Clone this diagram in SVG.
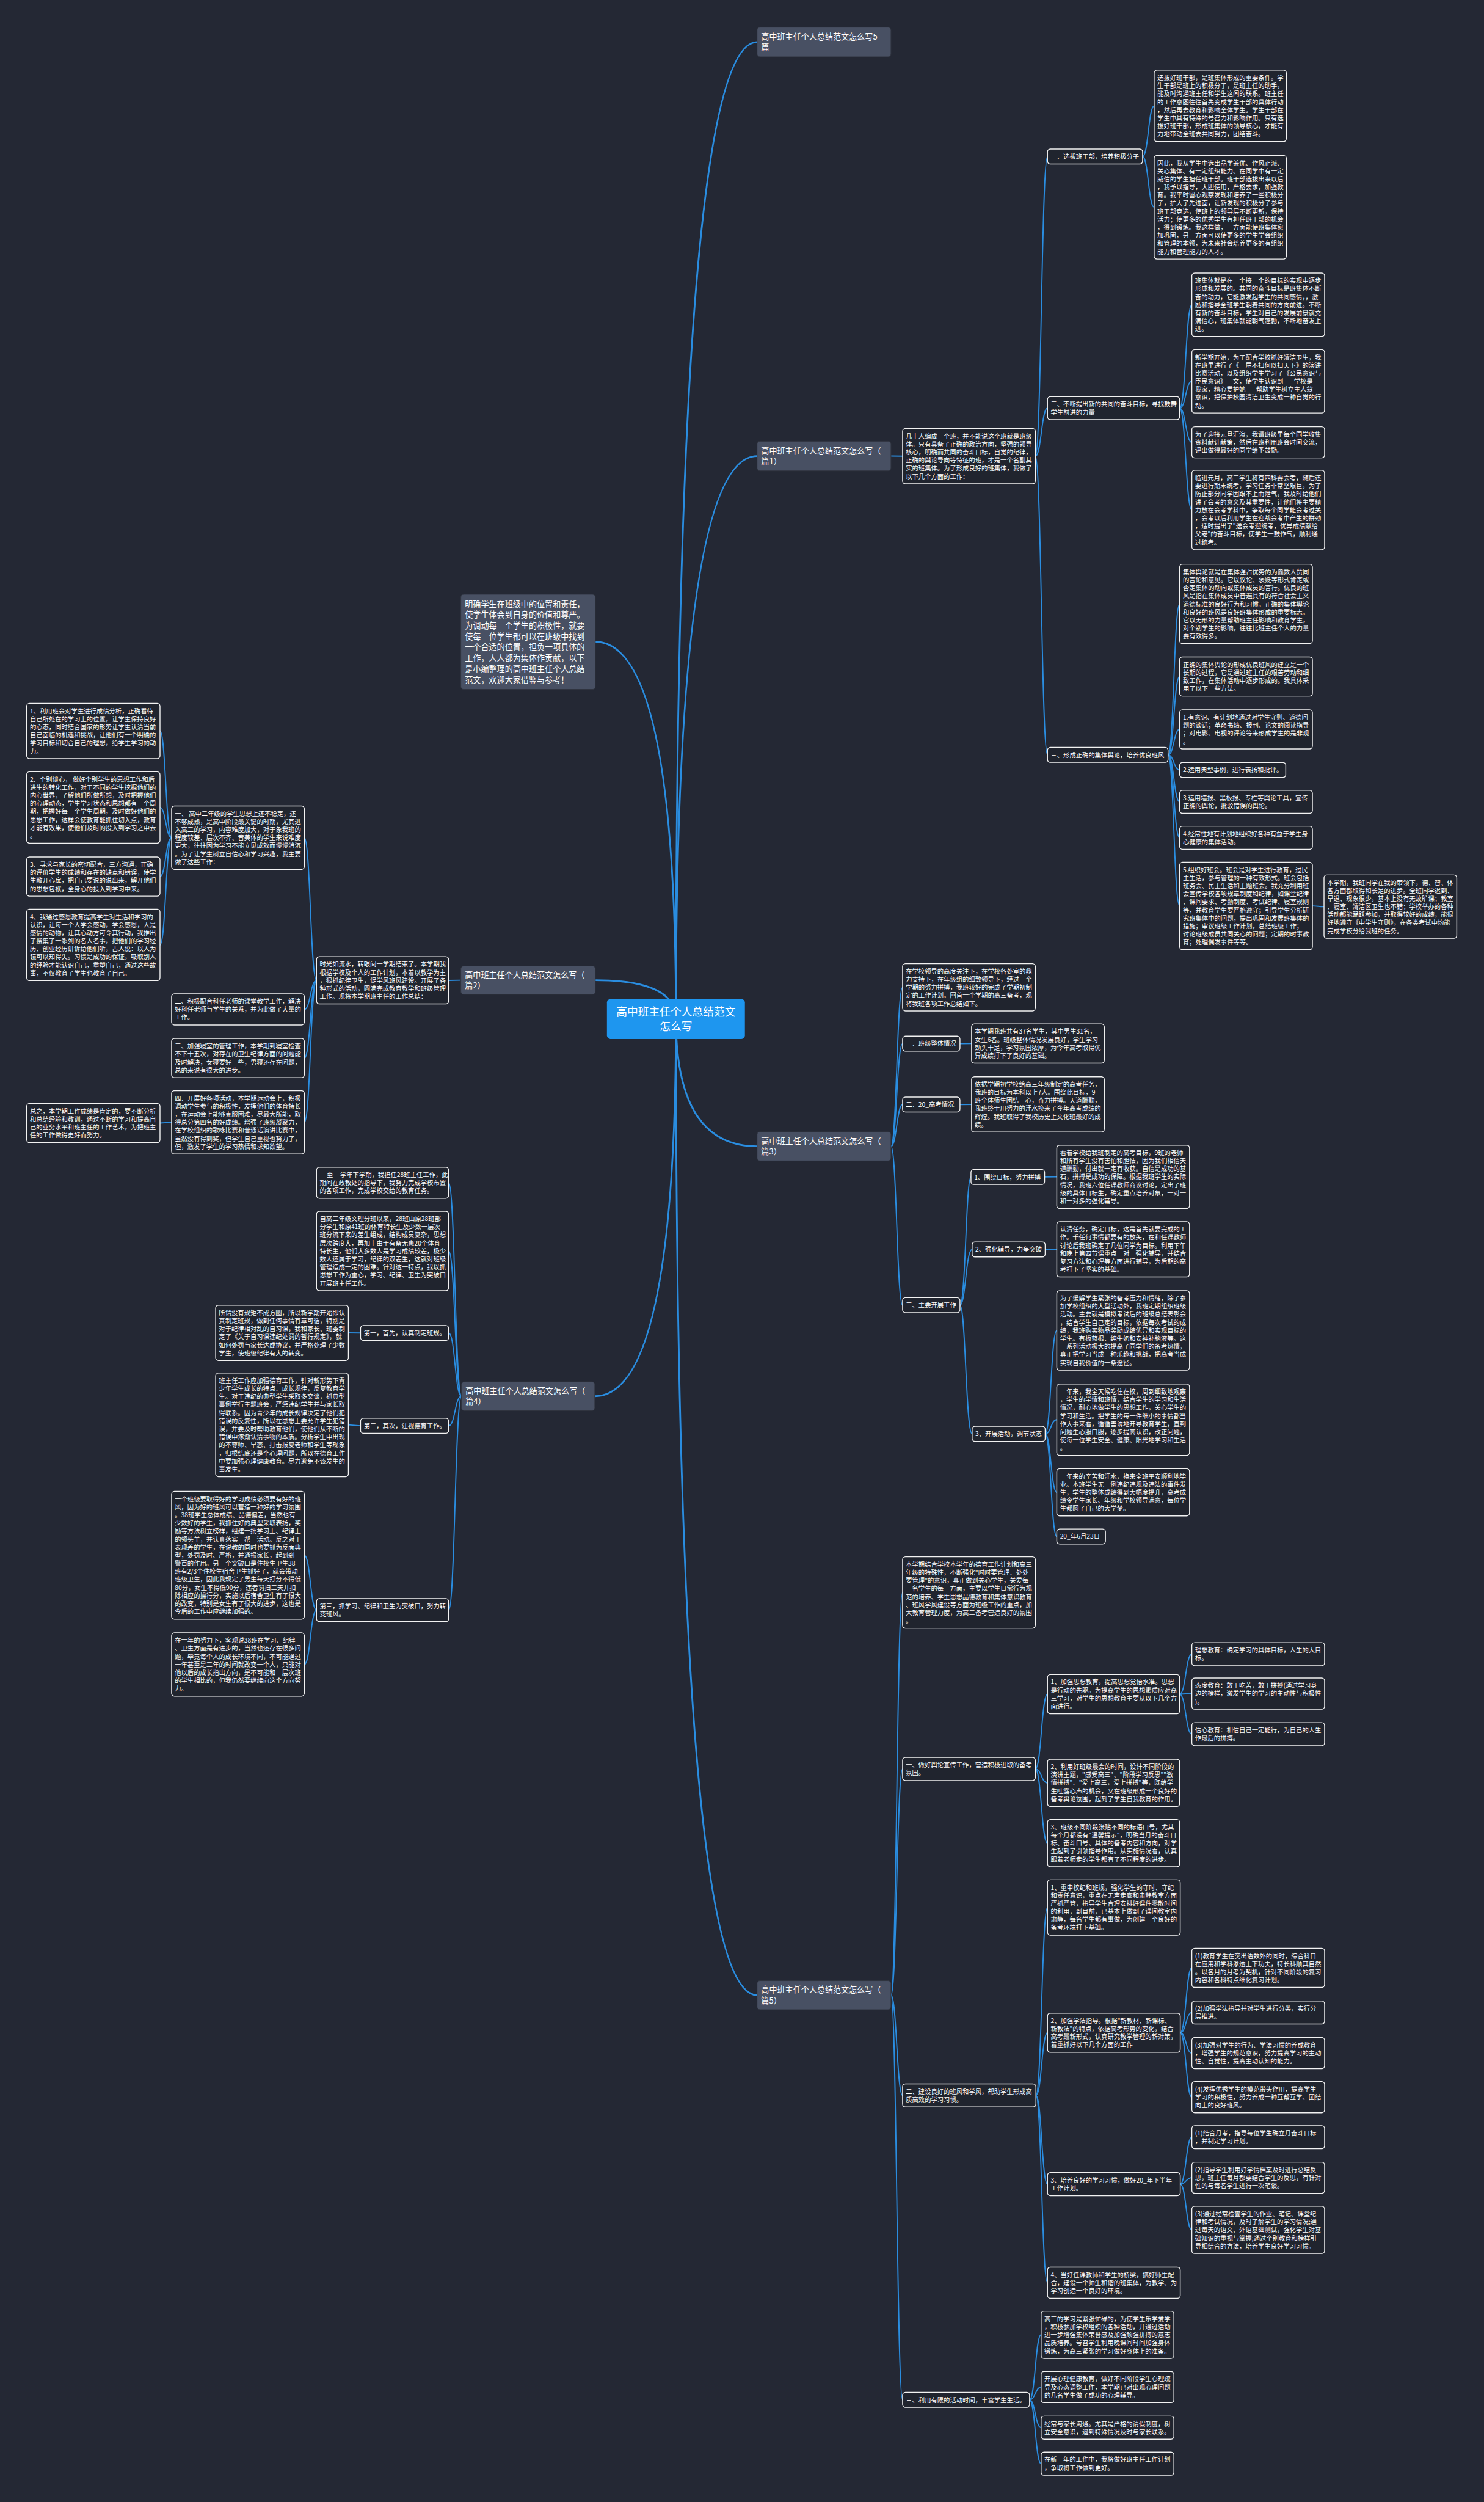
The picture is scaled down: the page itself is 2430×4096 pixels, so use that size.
<svg xmlns="http://www.w3.org/2000/svg" width="2430" height="4096" viewBox="0 0 2430 4096">
<style>
.lf{fill:#20242e;stroke:#f2f2f2;stroke-width:1.5}
.br{fill:#485063;stroke:#2f343e;stroke-width:1}
.ct{fill:#1e96ef}
text{fill:#ffffff;font-family:"Noto Sans CJK SC","Noto Sans",sans-serif}
.t{font-size:10.9px}
.tb{font-size:13.8px}
.tc{font-size:18.7px}
.cm{fill:none;stroke:#2a8de0;stroke-width:3}
.cs{fill:none;stroke:#2a8de0;stroke-width:2}
</style>
<rect x="0" y="0" width="2430" height="4096" fill="#242834"/>
<g transform="scale(0.94922)">
<g id="connectors">
<path class="cm" d="M1166 1757 Q1166 72.5 1306 72.5"/>
<path class="cm" d="M1166 1757 Q1166 786.5 1306 786.5"/>
<path class="cm" d="M1166 1757 Q1166 1977 1306 1977"/>
<path class="cm" d="M1166 1757 Q1166 3441 1306 3441"/>
<path class="cm" d="M1166 1757 Q1166 1107 1027 1107"/>
<path class="cm" d="M1166 1757 Q1166 1690.5 1027 1690.5"/>
<path class="cm" d="M1166 1757 Q1166 2408 1026 2408"/>
<path class="cs" d="M1537 786.5 L1557 786.7"/>
<path class="cs" d="M1786 786.7 C1796.5 786.7 1796.5 270 1807 270"/>
<path class="cs" d="M1786 786.7 C1796.5 786.7 1796.5 703.9 1807 703.9"/>
<path class="cs" d="M1786 786.7 C1796.5 786.7 1796.5 1302 1807 1302"/>
<path class="cs" d="M1971 270 C1981 270 1981 182.6 1991 182.6"/>
<path class="cs" d="M1971 270 C1981 270 1981 357.4 1991 357.4"/>
<path class="cs" d="M2035 703.9 C2045.5 703.9 2045.5 525.7 2056 525.7"/>
<path class="cs" d="M2035 703.9 C2045.5 703.9 2045.5 657.7 2056 657.7"/>
<path class="cs" d="M2035 703.9 C2045.5 703.9 2045.5 762.9 2056 762.9"/>
<path class="cs" d="M2035 703.9 C2045.5 703.9 2045.5 879.6 2056 879.6"/>
<path class="cs" d="M2015 1302 C2025 1302 2025 1041.6 2035 1041.6"/>
<path class="cs" d="M2015 1302 C2025 1302 2025 1166.8 2035 1166.8"/>
<path class="cs" d="M2015 1302 C2025 1302 2025 1257.8 2035 1257.8"/>
<path class="cs" d="M2015 1302 C2025 1302 2025 1328 2035 1328"/>
<path class="cs" d="M2015 1302 C2025 1302 2025 1382.9 2035 1382.9"/>
<path class="cs" d="M2015 1302 C2025 1302 2025 1444.9 2035 1444.9"/>
<path class="cs" d="M2015 1302 C2025 1302 2025 1562.5 2035 1562.5"/>
<path class="cs" d="M2264 1562.5 C2274 1562.5 2274 1563.7 2284 1563.7"/>
<path class="cs" d="M795 1690.5 L774 1690.8"/>
<path class="cs" d="M546 1690.8 C535.5 1690.8 535.5 1444.7 525 1444.7"/>
<path class="cs" d="M546 1690.8 C535.5 1690.8 535.5 1740.9 525 1740.9"/>
<path class="cs" d="M546 1690.8 C535.5 1690.8 535.5 1824.8 525 1824.8"/>
<path class="cs" d="M546 1690.8 C535.5 1690.8 535.5 1935.7 525 1935.7"/>
<path class="cs" d="M296 1444.7 C286 1444.7 286 1260.7 276 1260.7"/>
<path class="cs" d="M296 1444.7 C286 1444.7 286 1392.6 276 1392.6"/>
<path class="cs" d="M296 1444.7 C286 1444.7 286 1511.8 276 1511.8"/>
<path class="cs" d="M296 1444.7 C286 1444.7 286 1629.6 276 1629.6"/>
<path class="cs" d="M296 1935.7 L276 1936.8"/>
<path class="cs" d="M1537 1977 C1547 1977 1547 1702.8 1557 1702.8"/>
<path class="cs" d="M1537 1977 C1547 1977 1547 1800 1557 1800"/>
<path class="cs" d="M1537 1977 C1547 1977 1547 1905 1557 1905"/>
<path class="cs" d="M1537 1977 C1547 1977 1547 2251 1557 2251"/>
<path class="cs" d="M1656 1800 L1676 1799.8"/>
<path class="cs" d="M1656 1905 L1676 1904.7"/>
<path class="cs" d="M1656 2251 C1666 2251 1666 2030 1675 2030"/>
<path class="cs" d="M1656 2251 C1666 2251 1666 2155 1677 2155"/>
<path class="cs" d="M1656 2251 C1666 2251 1666 2473 1677 2473"/>
<path class="cs" d="M1802 2030 L1823 2029.7"/>
<path class="cs" d="M1803 2155 L1823 2154.7"/>
<path class="cs" d="M1803 2473 C1813 2473 1813 2294.6 1823 2294.6"/>
<path class="cs" d="M1803 2473 C1813 2473 1813 2448.6 1823 2448.6"/>
<path class="cs" d="M1803 2473 C1813 2473 1813 2573.8 1823 2573.8"/>
<path class="cs" d="M1803 2473 C1813 2473 1813 2650 1823 2650"/>
<path class="cs" d="M796 2408 C785 2408 785 2039.9 774 2039.9"/>
<path class="cs" d="M796 2408 C785 2408 785 2157.6 774 2157.6"/>
<path class="cs" d="M796 2408 C785 2408 785 2299 774 2299"/>
<path class="cs" d="M796 2408 C785 2408 785 2459 774 2459"/>
<path class="cs" d="M796 2408 C785 2408 785 2776.9 774 2776.9"/>
<path class="cs" d="M622 2299 L601 2298.7"/>
<path class="cs" d="M622 2459 L601 2457.4"/>
<path class="cs" d="M546 2776.9 C535.5 2776.9 535.5 2682.3 525 2682.3"/>
<path class="cs" d="M546 2776.9 C535.5 2776.9 535.5 2870.7 525 2870.7"/>
<path class="cs" d="M1537 3441 C1547 3441 1547 2746.6 1557 2746.6"/>
<path class="cs" d="M1537 3441 C1547 3441 1547 3050.9 1557 3050.9"/>
<path class="cs" d="M1537 3441 C1547 3441 1547 3613.9 1557 3613.9"/>
<path class="cs" d="M1537 3441 C1547 3441 1547 4139 1557 4139"/>
<path class="cs" d="M1786 3050.9 C1796.5 3050.9 1796.5 2921.8 1807 2921.8"/>
<path class="cs" d="M1786 3050.9 C1796.5 3050.9 1796.5 3074.8 1807 3074.8"/>
<path class="cs" d="M1786 3050.9 C1796.5 3050.9 1796.5 3178.8 1807 3178.8"/>
<path class="cs" d="M2035 2921.8 C2045.5 2921.8 2045.5 2852.9 2056 2852.9"/>
<path class="cs" d="M2035 2921.8 C2045.5 2921.8 2045.5 2920.9 2056 2920.9"/>
<path class="cs" d="M2035 2921.8 C2045.5 2921.8 2045.5 2990.9 2056 2990.9"/>
<path class="cs" d="M1787 3613.9 C1797 3613.9 1797 3289.7 1807 3289.7"/>
<path class="cs" d="M1787 3613.9 C1797 3613.9 1797 3505.8 1807 3505.8"/>
<path class="cs" d="M1787 3613.9 C1797 3613.9 1797 3766.9 1807 3766.9"/>
<path class="cs" d="M1787 3613.9 C1797 3613.9 1797 3936.9 1807 3936.9"/>
<path class="cs" d="M2036 3505.8 C2046 3505.8 2046 3393.8 2056 3393.8"/>
<path class="cs" d="M2036 3505.8 C2046 3505.8 2046 3470.9 2056 3470.9"/>
<path class="cs" d="M2036 3505.8 C2046 3505.8 2046 3540.9 2056 3540.9"/>
<path class="cs" d="M2036 3505.8 C2046 3505.8 2046 3616.9 2056 3616.9"/>
<path class="cs" d="M2036 3766.9 C2046 3766.9 2046 3685.9 2056 3685.9"/>
<path class="cs" d="M2036 3766.9 C2046 3766.9 2046 3755.9 2056 3755.9"/>
<path class="cs" d="M2036 3766.9 C2046 3766.9 2046 3845.8 2056 3845.8"/>
<path class="cs" d="M1776 4139 C1786 4139 1786 4026.8 1796 4026.8"/>
<path class="cs" d="M1776 4139 C1786 4139 1786 4116.9 1796 4116.9"/>
<path class="cs" d="M1776 4139 C1786 4139 1786 4186.9 1796 4186.9"/>
<path class="cs" d="M1776 4139 C1786 4139 1786 4248.9 1796 4248.9"/>
</g>

<g id="center"><rect class="ct" x="1047" y="1723" width="238" height="69" rx="6"/><text class="tc" x="1166" y="1751.6" text-anchor="middle"><tspan x="1166">高中班主任个人总结范文</tspan><tspan x="1166" dy="25.5">怎么写</tspan></text></g>

<g id="intro"><rect class="br" x="795" y="1025" width="232" height="164" rx="5"/><text class="tb" x="802" y="1046.8"><tspan x="802">明确学生在班级中的位置和责任，</tspan><tspan x="802" dy="18.66">使学生体会到自身的价值和尊严。</tspan><tspan x="802" dy="18.66">为调动每一个学生的积极性，就要</tspan><tspan x="802" dy="18.66">使每一位学生都可以在班级中找到</tspan><tspan x="802" dy="18.66">一个合适的位置，担负一项具体的</tspan><tspan x="802" dy="18.66">工作，人人都为集体作贡献，以下</tspan><tspan x="802" dy="18.66">是小编整理的高中班主任个人总结</tspan><tspan x="802" dy="18.66">范文，欢迎大家借鉴与参考！</tspan></text></g>

<g id="b5p"><rect class="br" x="1306" y="47" width="231" height="51" rx="5"/><text class="tb" x="1313" y="68.4"><tspan x="1313">高中班主任个人总结范文怎么写5</tspan><tspan x="1313" dy="18.4">篇</tspan></text></g>

<g id="b1p"><rect class="br" x="1306" y="761" width="231" height="51" rx="5"/><text class="tb" x="1313" y="782.4"><tspan x="1313">高中班主任个人总结范文怎么写（</tspan><tspan x="1313" dy="18.4">篇1）</tspan></text></g>

<g id="b2p"><rect class="br" x="795" y="1666" width="232" height="49" rx="5"/><text class="tb" x="802" y="1686.4"><tspan x="802">高中班主任个人总结范文怎么写（</tspan><tspan x="802" dy="18.4">篇2）</tspan></text></g>

<g id="b3p"><rect class="br" x="1306" y="1952" width="231" height="50" rx="5"/><text class="tb" x="1313" y="1972.9"><tspan x="1313">高中班主任个人总结范文怎么写（</tspan><tspan x="1313" dy="18.4">篇3）</tspan></text></g>

<g id="b4p"><rect class="br" x="796" y="2383" width="230" height="50" rx="5"/><text class="tb" x="803" y="2403.9"><tspan x="803">高中班主任个人总结范文怎么写（</tspan><tspan x="803" dy="18.4">篇4）</tspan></text></g>

<g id="b5"><rect class="br" x="1306" y="3416" width="231" height="50" rx="5"/><text class="tb" x="1313" y="3436.9"><tspan x="1313">高中班主任个人总结范文怎么写（</tspan><tspan x="1313" dy="18.4">篇5）</tspan></text></g>

<!-- 篇1 -->
<g id="p1-intro"><rect class="lf" x="1557" y="739" width="229" height="95.4" rx="5"/><text class="t" x="1562.5" y="756"><tspan x="1562.5">几十人编成一个班，并不能说这个班就是班级</tspan><tspan x="1562.5" dy="13.9">体。只有具备了正确的政治方向，坚强的领导</tspan><tspan x="1562.5" dy="13.9">核心，明确而共同的奋斗目标，自觉的纪律，</tspan><tspan x="1562.5" dy="13.9">正确的舆论导向等特征的班，才是一个名副其</tspan><tspan x="1562.5" dy="13.9">实的班集体。为了形成良好的班集体，我做了</tspan><tspan x="1562.5" dy="13.9">以下几个方面的工作：</tspan></text></g>

<g id="p1-n1"><rect class="lf" x="1807" y="257" width="164" height="25.9" rx="5"/><text class="t" x="1812.5" y="274"><tspan x="1812.5">一、选拔班干部，培养积极分子</tspan></text></g>
<g id="p1-t1"><rect class="lf" x="1991" y="121" width="228" height="123.2" rx="5"/><text class="t" x="1996.5" y="138"><tspan x="1996.5">选拔好班干部，是班集体形成的重要条件。学</tspan><tspan x="1996.5" dy="13.9">生干部是班上的积极分子，是班主任的助手，</tspan><tspan x="1996.5" dy="13.9">能及时沟通班主任和学生这间的联系。班主任</tspan><tspan x="1996.5" dy="13.9">的工作意图往往首先变成学生干部的具体行动</tspan><tspan x="1996.5" dy="13.9">，然后再去教育和影响全体学生。学生干部在</tspan><tspan x="1996.5" dy="13.9">学生中具有特殊的号召力和影响作用。只有选</tspan><tspan x="1996.5" dy="13.9">拔好班干部，形成班集体的领导核心，才能有</tspan><tspan x="1996.5" dy="13.9">力地带动全班去共同努力，团结奋斗。</tspan></text></g>
<g id="p1-t2"><rect class="lf" x="1991" y="268" width="228" height="178.8" rx="5"/><text class="t" x="1996.5" y="285"><tspan x="1996.5">因此，我从学生中选出品学兼优、作风正派、</tspan><tspan x="1996.5" dy="13.9">关心集体、有一定组织能力、在同学中有一定</tspan><tspan x="1996.5" dy="13.9">威信的学生担任班干部。班干部选拔出来以后</tspan><tspan x="1996.5" dy="13.9">，我予以指导，大胆使用，严格要求，加强教</tspan><tspan x="1996.5" dy="13.9">育。我平时留心观察发现和培养了一些积极分</tspan><tspan x="1996.5" dy="13.9">子，扩大了先进面，让新发现的积极分子参与</tspan><tspan x="1996.5" dy="13.9">班干部竞选，使班上的领导层不断更新，保持</tspan><tspan x="1996.5" dy="13.9">活力；使更多的优秀学生有担任班干部的机会</tspan><tspan x="1996.5" dy="13.9">，得到锻炼。我这样做，一方面能使班集体愈</tspan><tspan x="1996.5" dy="13.9">加巩固，另一方面可以使更多的学生学会组织</tspan><tspan x="1996.5" dy="13.9">和管理的本领，为未来社会培养更多的有组织</tspan><tspan x="1996.5" dy="13.9">能力和管理能力的人才。</tspan></text></g>

<g id="p1-n2"><rect class="lf" x="1807" y="684" width="228" height="39.8" rx="5"/><text class="t" x="1812.5" y="701"><tspan x="1812.5">二、不断提出新的共同的奋斗目标，寻找鼓舞</tspan><tspan x="1812.5" dy="13.9">学生前进的力量</tspan></text></g>
<g id="p1-b1"><rect class="lf" x="2056" y="471" width="229" height="109.3" rx="5"/><text class="t" x="2061.5" y="488"><tspan x="2061.5">班集体就是在一个接一个的目标的实现中逐步</tspan><tspan x="2061.5" dy="13.9">形成和发展的。共同的奋斗目标是班集体不断</tspan><tspan x="2061.5" dy="13.9">奋的动力，它能激发起学生的共同感情，，激</tspan><tspan x="2061.5" dy="13.9">励和指导全班学生朝着共同的方向前进。不断</tspan><tspan x="2061.5" dy="13.9">有新的奋斗目标，学生对自己的发展前景就充</tspan><tspan x="2061.5" dy="13.9">满信心，班集体就能朝气蓬勃，不断地奋发上</tspan><tspan x="2061.5" dy="13.9">进。</tspan></text></g>
<g id="p1-b2"><rect class="lf" x="2056" y="603" width="229" height="109.3" rx="5"/><text class="t" x="2061.5" y="620"><tspan x="2061.5">新学期开始，为了配合学校抓好清洁卫生，我</tspan><tspan x="2061.5" dy="13.9">在班里进行了《一屋不扫何以扫天下》的演讲</tspan><tspan x="2061.5" dy="13.9">比赛活动，以及组织学生学习了《公民意识与</tspan><tspan x="2061.5" dy="13.9">臣民意识》一文，使学生认识到——学校是</tspan><tspan x="2061.5" dy="13.9">我家，精心爱护她——帮助学生树立主人翁</tspan><tspan x="2061.5" dy="13.9">意识，把保护校园清洁卫生变成一种自觉的行</tspan><tspan x="2061.5" dy="13.9">动。</tspan></text></g>
<g id="p1-b3"><rect class="lf" x="2056" y="736" width="229" height="53.7" rx="5"/><text class="t" x="2061.5" y="753"><tspan x="2061.5">为了迎接元旦汇演，我请班级里每个同学收集</tspan><tspan x="2061.5" dy="13.9">资料献计献策，然后在班利用班会时间交流，</tspan><tspan x="2061.5" dy="13.9">评出做得最好的同学给予鼓励。</tspan></text></g>
<g id="p1-b4"><rect class="lf" x="2056" y="811" width="229" height="137.1" rx="5"/><text class="t" x="2061.5" y="828"><tspan x="2061.5">临进元月，高三学生将有四科要会考，随后还</tspan><tspan x="2061.5" dy="13.9">要进行期末统考，学习任务非常坚艰巨，为了</tspan><tspan x="2061.5" dy="13.9">防止部分同学因跟不上而泄气，我及时给他们</tspan><tspan x="2061.5" dy="13.9">讲了会考的意义及其重要性，让他们将主要精</tspan><tspan x="2061.5" dy="13.9">力放在会考学科中，争取每个同学能会考过关</tspan><tspan x="2061.5" dy="13.9">，会考以后利用学生在迎战会考中产生的拼劲</tspan><tspan x="2061.5" dy="13.9">，适时提出了"送会考迎统考，优异成绩献给</tspan><tspan x="2061.5" dy="13.9">父老"的奋斗目标，使学生一鼓作气，顺利通</tspan><tspan x="2061.5" dy="13.9">过统考。</tspan></text></g>

<g id="p1-n3"><rect class="lf" x="1807" y="1289" width="208" height="25.9" rx="5"/><text class="t" x="1812.5" y="1306"><tspan x="1812.5">三、形成正确的集体舆论，培养优良班风</tspan></text></g>
<g id="p1-c1"><rect class="lf" x="2035" y="973" width="229" height="137.1" rx="5"/><text class="t" x="2040.5" y="990"><tspan x="2040.5">集体舆论就是在集体强占优势的为鑫数人赞同</tspan><tspan x="2040.5" dy="13.9">的言论和意见。它以议论、褒贬等形式肯定或</tspan><tspan x="2040.5" dy="13.9">否定集体的动向或集体成员的言行。优良的班</tspan><tspan x="2040.5" dy="13.9">风是指在集体成员中普遍具有的符合社会主义</tspan><tspan x="2040.5" dy="13.9">道德标准的良好行为和习惯。正确的集体舆论</tspan><tspan x="2040.5" dy="13.9">和良好的班风是良好班集体形成的重要标志。</tspan><tspan x="2040.5" dy="13.9">它以无形的力量帮助班主任影响和教育学生，</tspan><tspan x="2040.5" dy="13.9">对个别学生的影响，往往比班主任个人的力量</tspan><tspan x="2040.5" dy="13.9">要有效得多。</tspan></text></g>
<g id="p1-c2"><rect class="lf" x="2035" y="1133" width="229" height="67.6" rx="5"/><text class="t" x="2040.5" y="1150"><tspan x="2040.5">正确的集体舆论的形成优良班风的建立是一个</tspan><tspan x="2040.5" dy="13.9">长期的过程，它是通过班主任的艰苦劳动和细</tspan><tspan x="2040.5" dy="13.9">致工作，在集体活动中逐步形成的。我具体采</tspan><tspan x="2040.5" dy="13.9">用了以下一些方法。</tspan></text></g>
<g id="p1-c3"><rect class="lf" x="2035" y="1224" width="229" height="67.6" rx="5"/><text class="t" x="2040.5" y="1241"><tspan x="2040.5">1.有意识、有计划地通过对学生守则、道德问</tspan><tspan x="2040.5" dy="13.9">题的谈话；革命书籍、报刊、论文的阅读指导</tspan><tspan x="2040.5" dy="13.9">；对电影、电视的评论等来形成学生的是非观</tspan><tspan x="2040.5" dy="13.9">。</tspan></text></g>
<g id="p1-c4"><rect class="lf" x="2035" y="1315" width="183" height="25.9" rx="5"/><text class="t" x="2040.5" y="1332"><tspan x="2040.5">2.运用典型事例，进行表扬和批评。</tspan></text></g>
<g id="p1-c5"><rect class="lf" x="2035" y="1363" width="229" height="39.8" rx="5"/><text class="t" x="2040.5" y="1380"><tspan x="2040.5">3.运用墙报、黑板报、专栏等舆论工具，宣传</tspan><tspan x="2040.5" dy="13.9">正确的舆论，批驳错误的舆论。</tspan></text></g>
<g id="p1-c6"><rect class="lf" x="2035" y="1425" width="229" height="39.8" rx="5"/><text class="t" x="2040.5" y="1442"><tspan x="2040.5">4.经常性地有计划地组织好各种有益于学生身</tspan><tspan x="2040.5" dy="13.9">心健康的集体活动。</tspan></text></g>
<g id="p1-c7"><rect class="lf" x="2035" y="1487" width="229" height="151" rx="5"/><text class="t" x="2040.5" y="1504"><tspan x="2040.5">5.组织好班会。班会是对学生进行教育，过民</tspan><tspan x="2040.5" dy="13.9">主生活，参与管理的一种有效形式。班会包括</tspan><tspan x="2040.5" dy="13.9">班务会、民主生活和主题班会。我充分利用班</tspan><tspan x="2040.5" dy="13.9">会宣传学校各项规章制度和纪律，如课堂纪律</tspan><tspan x="2040.5" dy="13.9">、课间要求、考勤制度、考试纪律、寝室规则</tspan><tspan x="2040.5" dy="13.9">等，并教育学生要严格遵守；引导学生分析研</tspan><tspan x="2040.5" dy="13.9">究班集体中的问题，提出巩固和发展班集体的</tspan><tspan x="2040.5" dy="13.9">措施；审议班级工作计划，总结班级工作；</tspan><tspan x="2040.5" dy="13.9">讨论班级成员共同关心的问题；定期的时事教</tspan><tspan x="2040.5" dy="13.9">育；处理偶发事件等等。</tspan></text></g>
<g id="p1-d"><rect class="lf" x="2284" y="1509" width="229" height="109.3" rx="5"/><text class="t" x="2289.5" y="1526"><tspan x="2289.5">本学期，我班同学在我的带领下，德、智、体</tspan><tspan x="2289.5" dy="13.9">各方面都取得和长足的进步。全班同学迟到、</tspan><tspan x="2289.5" dy="13.9">早退、现象很少，基本上没有无故旷课；教室</tspan><tspan x="2289.5" dy="13.9">、寝室、清洁区卫生也不错；学校举办的各种</tspan><tspan x="2289.5" dy="13.9">活动都能踊跃参加，并取得较好的成绩，能很</tspan><tspan x="2289.5" dy="13.9">好地遵守《中学生守则》，在各类考试中均能</tspan><tspan x="2289.5" dy="13.9">完成学校分给我班的任务。</tspan></text></g>

<!-- 篇2 -->
<g id="p2-intro"><rect class="lf" x="546" y="1650" width="228" height="81.5" rx="5"/><text class="t" x="551.5" y="1667"><tspan x="551.5">时光如流水，转眼间一学期结束了。本学期我</tspan><tspan x="551.5" dy="13.9">根据学校及个人的工作计划，本着以教学为主</tspan><tspan x="551.5" dy="13.9">，狠抓纪律卫生，促学风班风建设。开展了各</tspan><tspan x="551.5" dy="13.9">种形式的活动，圆满完成教育教学和班级管理</tspan><tspan x="551.5" dy="13.9">工作。现将本学期班主任的工作总结：</tspan></text></g>
<g id="p2-a1"><rect class="lf" x="296" y="1390" width="229" height="109.3" rx="5"/><text class="t" x="301.5" y="1407"><tspan x="301.5">一、 高中二年级的学生思想上还不稳定，还</tspan><tspan x="301.5" dy="13.9">不够成熟，是高中阶段最关键的时期，尤其进</tspan><tspan x="301.5" dy="13.9">入高二的学习，内容难度加大，对于象我班的</tspan><tspan x="301.5" dy="13.9">程度较差、层次不齐、音美体的学生来说难度</tspan><tspan x="301.5" dy="13.9">更大，往往因为学习不能立见成效而慢慢消沉</tspan><tspan x="301.5" dy="13.9">。为了让学生树立自信心和学习兴趣，我主要</tspan><tspan x="301.5" dy="13.9">做了这些工作：</tspan></text></g>
<g id="p2-a2"><rect class="lf" x="296" y="1714" width="229" height="53.7" rx="5"/><text class="t" x="301.5" y="1731"><tspan x="301.5">二、积极配合科任老师的课堂教学工作，解决</tspan><tspan x="301.5" dy="13.9">好科任老师与学生的关系，并为此做了大量的</tspan><tspan x="301.5" dy="13.9">工作。</tspan></text></g>
<g id="p2-a3"><rect class="lf" x="296" y="1791" width="229" height="67.6" rx="5"/><text class="t" x="301.5" y="1808"><tspan x="301.5">三、加强寝室的管理工作，本学期到寝室检查</tspan><tspan x="301.5" dy="13.9">不下十五次，对存在的卫生纪律方面的问题能</tspan><tspan x="301.5" dy="13.9">及时解决，女寝要好一些，男寝还存在问题，</tspan><tspan x="301.5" dy="13.9">总的来说有很大的进步。</tspan></text></g>
<g id="p2-a4"><rect class="lf" x="296" y="1881" width="229" height="109.3" rx="5"/><text class="t" x="301.5" y="1898"><tspan x="301.5">四、开展好各项活动，本学期运动会上，积极</tspan><tspan x="301.5" dy="13.9">调动学生参与的积极性，发挥他们的体育特长</tspan><tspan x="301.5" dy="13.9">，在运动会上能够克服困难，尽最大所能，取</tspan><tspan x="301.5" dy="13.9">得总分第四名的好成绩。增强了班级凝聚力，</tspan><tspan x="301.5" dy="13.9">在学校组织的歌咏比赛和普通话演讲比赛中，</tspan><tspan x="301.5" dy="13.9">虽然没有得到奖，但学生自己重视也努力了，</tspan><tspan x="301.5" dy="13.9">但，激发了学生的学习热情和求知欲望。</tspan></text></g>
<g id="p2-l1"><rect class="lf" x="46" y="1213" width="230" height="95.4" rx="5"/><text class="t" x="51.5" y="1230"><tspan x="51.5">1、利用班会对学生进行成绩分析，正确看待</tspan><tspan x="51.5" dy="13.9">自己所处在的学习上的位置，让学生保持良好</tspan><tspan x="51.5" dy="13.9">的心态，同时结合国家的形势让学生认清当前</tspan><tspan x="51.5" dy="13.9">自己面临的机遇和挑战，让他们有一个明确的</tspan><tspan x="51.5" dy="13.9">学习目标和切合自己的理想，给学生学习的动</tspan><tspan x="51.5" dy="13.9">力。</tspan></text></g>
<g id="p2-l2"><rect class="lf" x="46" y="1331" width="230" height="123.2" rx="5"/><text class="t" x="51.5" y="1348"><tspan x="51.5">2、个别谈心， 做好个别学生的思想工作和后</tspan><tspan x="51.5" dy="13.9">进生的转化工作，对于不同的学生挖掘他们的</tspan><tspan x="51.5" dy="13.9">内心世界，了解他们所做所想，及时把握他们</tspan><tspan x="51.5" dy="13.9">的心理动态，学生学习状态和思想都有一个周</tspan><tspan x="51.5" dy="13.9">期，把握好每一个学生周期，及时做好他们的</tspan><tspan x="51.5" dy="13.9">思想工作，这样会使教育能抓住切入点，教育</tspan><tspan x="51.5" dy="13.9">才能有效果，使他们及时的投入到学习之中去</tspan><tspan x="51.5" dy="13.9">。</tspan></text></g>
<g id="p2-l3"><rect class="lf" x="46" y="1478" width="230" height="67.6" rx="5"/><text class="t" x="51.5" y="1495"><tspan x="51.5">3、寻求与家长的密切配合，三方沟通，正确</tspan><tspan x="51.5" dy="13.9">的评价学生的成绩和存在的缺点和错误，使学</tspan><tspan x="51.5" dy="13.9">生敞开心扉，把自己要说的说出来，解开他们</tspan><tspan x="51.5" dy="13.9">的思想包袱，全身心的投入到学习中来。</tspan></text></g>
<g id="p2-l4"><rect class="lf" x="46" y="1568" width="230" height="123.2" rx="5"/><text class="t" x="51.5" y="1585"><tspan x="51.5">4、我通过感恩教育提高学生对生活和学习的</tspan><tspan x="51.5" dy="13.9">认识，让每一个人学会感动，学会感恩，人是</tspan><tspan x="51.5" dy="13.9">感情的动物，让其心动方可令其行动，我推出</tspan><tspan x="51.5" dy="13.9">了搜集了一系列的名人名事，把他们的学习经</tspan><tspan x="51.5" dy="13.9">历、创业经历讲诉给他们听，古人说：以人为</tspan><tspan x="51.5" dy="13.9">镜可以知得失。习惯是成功的保证，吸取别人</tspan><tspan x="51.5" dy="13.9">的经验才能认识自己，重塑自己，通过这些故</tspan><tspan x="51.5" dy="13.9">事，不仅教育了学生也教育了自己。</tspan></text></g>
<g id="p2-l5"><rect class="lf" x="46" y="1903" width="230" height="67.6" rx="5"/><text class="t" x="51.5" y="1920"><tspan x="51.5">总之，本学期工作成绩是肯定的，要不断分析</tspan><tspan x="51.5" dy="13.9">和总结经验和教训，通过不断的学习和提高自</tspan><tspan x="51.5" dy="13.9">己的业务水平和班主任的工作艺术，为把班主</tspan><tspan x="51.5" dy="13.9">任的工作做得更好而努力。</tspan></text></g>

<!-- 篇3 -->
<g id="p3-intro"><rect class="lf" x="1557" y="1662" width="229" height="81.5" rx="5"/><text class="t" x="1562.5" y="1679"><tspan x="1562.5">在学校领导的高度关注下，在学校各处室的鼎</tspan><tspan x="1562.5" dy="13.9">力支持下，在年级组的细致领导下，经过一个</tspan><tspan x="1562.5" dy="13.9">学期的努力拼搏，我班较好的完成了学期初制</tspan><tspan x="1562.5" dy="13.9">定的工作计划。回首一个学期的高三备考，现</tspan><tspan x="1562.5" dy="13.9">将我班各项工作总结如下。</tspan></text></g>
<g id="p3-n1"><rect class="lf" x="1557" y="1787" width="99" height="25.9" rx="5"/><text class="t" x="1562.5" y="1804"><tspan x="1562.5">一、班级整体情况</tspan></text></g>
<g id="p3-n1t"><rect class="lf" x="1676" y="1766" width="229" height="67.6" rx="5"/><text class="t" x="1681.5" y="1783"><tspan x="1681.5">本学期我班共有37名学生，其中男生31名，</tspan><tspan x="1681.5" dy="13.9">女生6名。班级整体情况发展良好，学生学习</tspan><tspan x="1681.5" dy="13.9">劲头十足，学习氛围浓厚，为今年高考取得优</tspan><tspan x="1681.5" dy="13.9">异成绩打下了良好的基础。</tspan></text></g>
<g id="p3-n2"><rect class="lf" x="1557" y="1892" width="99" height="25.9" rx="5"/><text class="t" x="1562.5" y="1909"><tspan x="1562.5">二、20_高考情况</tspan></text></g>
<g id="p3-n2t"><rect class="lf" x="1676" y="1857" width="229" height="95.4" rx="5"/><text class="t" x="1681.5" y="1874"><tspan x="1681.5">依据学期初学校给高三年级制定的高考任务，</tspan><tspan x="1681.5" dy="13.9">我班的目标为本科以上7人。围绕此目标，9</tspan><tspan x="1681.5" dy="13.9">班全体师生团结一心，奋力拼搏。天道酬勤，</tspan><tspan x="1681.5" dy="13.9">我班终于用努力的汗水换来了今年高考成绩的</tspan><tspan x="1681.5" dy="13.9">辉煌。我班取得了我校历史上文化班最好的成</tspan><tspan x="1681.5" dy="13.9">绩。</tspan></text></g>
<g id="p3-n3"><rect class="lf" x="1557" y="2238" width="99" height="25.9" rx="5"/><text class="t" x="1562.5" y="2255"><tspan x="1562.5">三、主要开展工作</tspan></text></g>
<g id="p3-f1"><rect class="lf" x="1675" y="2017" width="127" height="25.9" rx="5"/><text class="t" x="1680.5" y="2034"><tspan x="1680.5">1、围绕目标，努力拼搏</tspan></text></g>
<g id="p3-f1t"><rect class="lf" x="1823" y="1975" width="229" height="109.3" rx="5"/><text class="t" x="1828.5" y="1992"><tspan x="1828.5">看着学校给我班制定的高考目标，9班的老师</tspan><tspan x="1828.5" dy="13.9">和所有学生没有害怕和胆怯，因为我们相信天</tspan><tspan x="1828.5" dy="13.9">道酬勤，付出就一定有收获。自信是成功的基</tspan><tspan x="1828.5" dy="13.9">石，拼搏是成功的保障。根据我班学生的实际</tspan><tspan x="1828.5" dy="13.9">情况，我班六位任课教师商议讨论，定出了班</tspan><tspan x="1828.5" dy="13.9">级的具体目标生，确定重点培养对象，一对一</tspan><tspan x="1828.5" dy="13.9">和一对多的强化辅导。</tspan></text></g>
<g id="p3-f2"><rect class="lf" x="1677" y="2142" width="126" height="25.9" rx="5"/><text class="t" x="1682.5" y="2159"><tspan x="1682.5">2、强化辅导，力争突破</tspan></text></g>
<g id="p3-f2t"><rect class="lf" x="1823" y="2107" width="229" height="95.4" rx="5"/><text class="t" x="1828.5" y="2124"><tspan x="1828.5">认清任务，确定目标，这是首先就要完成的工</tspan><tspan x="1828.5" dy="13.9">作。千任何事情都要有的放矢，在和任课教师</tspan><tspan x="1828.5" dy="13.9">讨论后我班确定了几位同学为目标。利用下午</tspan><tspan x="1828.5" dy="13.9">和晚上第四节课重点一对一强化辅导，并结合</tspan><tspan x="1828.5" dy="13.9">复习方法和心理等方面进行辅导，为后期的高</tspan><tspan x="1828.5" dy="13.9">考打下了坚实的基础。</tspan></text></g>
<g id="p3-f3"><rect class="lf" x="1677" y="2460" width="126" height="25.9" rx="5"/><text class="t" x="1682.5" y="2477"><tspan x="1682.5">3、开展活动，调节状态</tspan></text></g>
<g id="p3-f3a"><rect class="lf" x="1823" y="2226" width="229" height="137.1" rx="5"/><text class="t" x="1828.5" y="2243"><tspan x="1828.5">为了缓解学生紧张的备考压力和情绪，除了参</tspan><tspan x="1828.5" dy="13.9">加学校组织的大型活动外，我班定期组织班级</tspan><tspan x="1828.5" dy="13.9">活动。主要就是模拟考试后的班级总结表彰会</tspan><tspan x="1828.5" dy="13.9">，结合学生自己定的目标，依据每次考试的成</tspan><tspan x="1828.5" dy="13.9">绩，我班购买物品奖励成绩优异和实现目标的</tspan><tspan x="1828.5" dy="13.9">学生。有板蓝根、纯牛奶和安神补脑液等。这</tspan><tspan x="1828.5" dy="13.9">一系列活动极大的提高了同学们的备考热情，</tspan><tspan x="1828.5" dy="13.9">真正把学习当成一种乐趣和挑战，把高考当成</tspan><tspan x="1828.5" dy="13.9">实现自我价值的一条途径。</tspan></text></g>
<g id="p3-f3b"><rect class="lf" x="1823" y="2387" width="229" height="123.2" rx="5"/><text class="t" x="1828.5" y="2404"><tspan x="1828.5">一年来，我全天候吃住在校，周到细致地观察</tspan><tspan x="1828.5" dy="13.9">，学生的学情和班情，结合学生的学习和生活</tspan><tspan x="1828.5" dy="13.9">情况，耐心地做学生的思想工作，关心学生的</tspan><tspan x="1828.5" dy="13.9">学习和生活。把学生的每一件细小的事情都当</tspan><tspan x="1828.5" dy="13.9">作大事来看，循循善诱地开导教育学生，直到</tspan><tspan x="1828.5" dy="13.9">问题生心服口服，逐步提高认识，改正问题，</tspan><tspan x="1828.5" dy="13.9">使每一位学生安全、健康、阳光地学习和生活</tspan><tspan x="1828.5" dy="13.9">。</tspan></text></g>
<g id="p3-f3c"><rect class="lf" x="1823" y="2533" width="229" height="81.5" rx="5"/><text class="t" x="1828.5" y="2550"><tspan x="1828.5">一年来的辛苦和汗水，换来全班平安顺利地毕</tspan><tspan x="1828.5" dy="13.9">业。本班学生无一例违纪违规及违法的事件发</tspan><tspan x="1828.5" dy="13.9">生，学生的整体成绩得到大幅度提升，高考成</tspan><tspan x="1828.5" dy="13.9">绩令学生家长、年级和学校领导满意，每位学</tspan><tspan x="1828.5" dy="13.9">生都圆了自己的大学梦。</tspan></text></g>
<g id="p3-f3d"><rect class="lf" x="1823" y="2637" width="84" height="25.9" rx="5"/><text class="t" x="1828.5" y="2654"><tspan x="1828.5">20_年6月23日</tspan></text></g>

<!-- 篇4 -->
<g id="p4-g0"><rect class="lf" x="546" y="2013" width="228" height="53.7" rx="5"/><text class="t" x="551.5" y="2030"><tspan x="551.5">__至__学年下学期，我担任28班主任工作，此</tspan><tspan x="551.5" dy="13.9">期间在政教处的指导下，我努力完成学校布置</tspan><tspan x="551.5" dy="13.9">的各项工作，完成学校交给的教育任务。</tspan></text></g>
<g id="p4-g1"><rect class="lf" x="546" y="2089" width="228" height="137.1" rx="5"/><text class="t" x="551.5" y="2106"><tspan x="551.5">自高二年级文理分班以来，28班由原28班部</tspan><tspan x="551.5" dy="13.9">分学生和原41班的体育特长生及少数一层次</tspan><tspan x="551.5" dy="13.9">班分流下来的差生组成，结构成员复杂，思想</tspan><tspan x="551.5" dy="13.9">层次跨度大，再加上由于有备无患20个体育</tspan><tspan x="551.5" dy="13.9">特长生，他们大多数人是学习成绩较差，极少</tspan><tspan x="551.5" dy="13.9">数人还属于学习，纪律的双差生，这就对班级</tspan><tspan x="551.5" dy="13.9">管理造成一定的困难。针对这一特点，我以抓</tspan><tspan x="551.5" dy="13.9">思想工作为重心，学习、纪律、卫生为突破口</tspan><tspan x="551.5" dy="13.9">开展班主任工作。</tspan></text></g>
<g id="p4-h1"><rect class="lf" x="622" y="2286" width="152" height="25.9" rx="5"/><text class="t" x="627.5" y="2303"><tspan x="627.5">第一，首先，认真制定班规。</tspan></text></g>
<g id="p4-h1t"><rect class="lf" x="372" y="2251" width="229" height="95.4" rx="5"/><text class="t" x="377.5" y="2268"><tspan x="377.5">所谓没有规矩不成方圆，所以新学期开始即认</tspan><tspan x="377.5" dy="13.9">真制定班规，做到任何事情有章可循，特别是</tspan><tspan x="377.5" dy="13.9">对于纪律相对乱的自习课，我和家长、班委制</tspan><tspan x="377.5" dy="13.9">定了《关于自习课违纪处罚的暂行规定》，就</tspan><tspan x="377.5" dy="13.9">如何处罚与家长达成协议，并严格处理了少数</tspan><tspan x="377.5" dy="13.9">学生，使班级纪律有大的转变。</tspan></text></g>
<g id="p4-h2"><rect class="lf" x="622" y="2446" width="152" height="25.9" rx="5"/><text class="t" x="627.5" y="2463"><tspan x="627.5">第二，其次，注视德育工作。</tspan></text></g>
<g id="p4-h2t"><rect class="lf" x="372" y="2368" width="229" height="178.8" rx="5"/><text class="t" x="377.5" y="2385"><tspan x="377.5">班主任工作应加强德育工作，针对新形势下青</tspan><tspan x="377.5" dy="13.9">少年学生成长的特点、成长规律，反复教育学</tspan><tspan x="377.5" dy="13.9">生。对于违纪的典型学生采取多交谈，抓典型</tspan><tspan x="377.5" dy="13.9">事例举行主题班会，严惩违纪学生并与家长取</tspan><tspan x="377.5" dy="13.9">得联系。因为青少年的成长规律决定了他们犯</tspan><tspan x="377.5" dy="13.9">错误的反复性，所以在思想上要允许学生犯错</tspan><tspan x="377.5" dy="13.9">误，并要及时帮助教育他们，使他们从不断的</tspan><tspan x="377.5" dy="13.9">错误中涿渐认清事物的本质。分析学生中出现</tspan><tspan x="377.5" dy="13.9">的不尊师、早恋、打击报复老师和学生等现象</tspan><tspan x="377.5" dy="13.9">，归根结底还是个心理问题，所以在德育工作</tspan><tspan x="377.5" dy="13.9">中要加强心理健康教育。尽力避免不该发生的</tspan><tspan x="377.5" dy="13.9">事发生。</tspan></text></g>
<g id="p4-h3"><rect class="lf" x="546" y="2757" width="228" height="39.8" rx="5"/><text class="t" x="551.5" y="2774"><tspan x="551.5">第三，抓学习、纪律和卫生为突破口，努力转</tspan><tspan x="551.5" dy="13.9">变班风。</tspan></text></g>
<g id="p4-h3a"><rect class="lf" x="296" y="2572" width="229" height="220.5" rx="5"/><text class="t" x="301.5" y="2589"><tspan x="301.5">一个班级要取得好的学习成绩必须要有好的班</tspan><tspan x="301.5" dy="13.9">风，因为好的班风可以营造一种好的学习氛围</tspan><tspan x="301.5" dy="13.9">。38班学生总体成绩、品德偏差，当然也有</tspan><tspan x="301.5" dy="13.9">少数好的学生，我抓住好的典型采取表扬，奖</tspan><tspan x="301.5" dy="13.9">励等方法树立榜样，组建一批学习上、纪律上</tspan><tspan x="301.5" dy="13.9">的领头羊，并认真落实一帮一活动。反之对于</tspan><tspan x="301.5" dy="13.9">表现差的学生，在说教的同时也要抓为反面典</tspan><tspan x="301.5" dy="13.9">型，处罚及时、严格，并通报家长，起到剎一</tspan><tspan x="301.5" dy="13.9">警百的作用。另一个突破口是住校生卫生38</tspan><tspan x="301.5" dy="13.9">班有2/3个住校生宿舍卫生抓好了，就会带动</tspan><tspan x="301.5" dy="13.9">班级卫生，因此我规定了男生每天打分不得低</tspan><tspan x="301.5" dy="13.9">80分，女生不得低90分，违者罚扫三天并扣</tspan><tspan x="301.5" dy="13.9">除相应的操行分，实施以后宿舍卫生有了很大</tspan><tspan x="301.5" dy="13.9">的改变，特别是女生有了很大的进步，这也是</tspan><tspan x="301.5" dy="13.9">今后的工作中应继续加强的。</tspan></text></g>
<g id="p4-h3b"><rect class="lf" x="296" y="2816" width="229" height="109.3" rx="5"/><text class="t" x="301.5" y="2833"><tspan x="301.5">在一年的努力下，客观说38班在学习、纪律</tspan><tspan x="301.5" dy="13.9">、卫生方面是有进步的，当然也还存在很多问</tspan><tspan x="301.5" dy="13.9">题，毕竟每个人的成长环境不同，不可能通过</tspan><tspan x="301.5" dy="13.9">一年甚至是三年的时间就改变一个人，只能对</tspan><tspan x="301.5" dy="13.9">他以后的成长指出方向，是不可能和一层次班</tspan><tspan x="301.5" dy="13.9">的学生相比的，但我仍然要继续向这个方向努</tspan><tspan x="301.5" dy="13.9">力。</tspan></text></g>

<!-- 篇5 -->
<g id="p5-k0"><rect class="lf" x="1557" y="2685" width="229" height="123.2" rx="5"/><text class="t" x="1562.5" y="2702"><tspan x="1562.5">本学期结合学校本学年的德育工作计划和高三</tspan><tspan x="1562.5" dy="13.9">年级的特殊性，不断强化"时时要管理、处处</tspan><tspan x="1562.5" dy="13.9">要管理"的意识，真正做到关心学生，关爱每</tspan><tspan x="1562.5" dy="13.9">一名学生的每一方面，主要以学生日常行为规</tspan><tspan x="1562.5" dy="13.9">范的培养、学生思想品德教育和集体意识教育</tspan><tspan x="1562.5" dy="13.9">、班风学风建设等方面为班级工作的重点，加</tspan><tspan x="1562.5" dy="13.9">大教育管理力度，为高三备考营造良好的氛围</tspan><tspan x="1562.5" dy="13.9">。</tspan></text></g>
<g id="p5-k1"><rect class="lf" x="1557" y="3031" width="229" height="39.8" rx="5"/><text class="t" x="1562.5" y="3048"><tspan x="1562.5">一、做好舆论宣传工作，营造积极进取的备考</tspan><tspan x="1562.5" dy="13.9">氛围。</tspan></text></g>
<g id="p5-m1"><rect class="lf" x="1807" y="2888" width="228" height="67.6" rx="5"/><text class="t" x="1812.5" y="2905"><tspan x="1812.5">1、加强思想教育，提高思想觉悟水准。思想</tspan><tspan x="1812.5" dy="13.9">是行动的先驱。为提高学生的思想素质应对高</tspan><tspan x="1812.5" dy="13.9">三学习，对学生的思想教育主要从以下几个方</tspan><tspan x="1812.5" dy="13.9">面进行。</tspan></text></g>
<g id="p5-mi1"><rect class="lf" x="2056" y="2833" width="229" height="39.8" rx="5"/><text class="t" x="2061.5" y="2850"><tspan x="2061.5">理想教育：确定学习的具体目标，人生的大目</tspan><tspan x="2061.5" dy="13.9">标。</tspan></text></g>
<g id="p5-mi2"><rect class="lf" x="2056" y="2894" width="229" height="53.7" rx="5"/><text class="t" x="2061.5" y="2911"><tspan x="2061.5">态度教育：敢于吃苦，敢于拼搏(通过学习身</tspan><tspan x="2061.5" dy="13.9">边的榜样，激发学生的学习的主动性与积极性</tspan><tspan x="2061.5" dy="13.9">)。</tspan></text></g>
<g id="p5-mi3"><rect class="lf" x="2056" y="2971" width="229" height="39.8" rx="5"/><text class="t" x="2061.5" y="2988"><tspan x="2061.5">信心教育：相信自己一定能行，为自己的人生</tspan><tspan x="2061.5" dy="13.9">作最后的拼搏。</tspan></text></g>
<g id="p5-m2"><rect class="lf" x="1807" y="3034" width="228" height="81.5" rx="5"/><text class="t" x="1812.5" y="3051"><tspan x="1812.5">2、利用好班级晨会的时间，设计不同阶段的</tspan><tspan x="1812.5" dy="13.9">演讲主题，"感受高三"、"阶段学习反思""激</tspan><tspan x="1812.5" dy="13.9">情拼搏"、"爱上高三，爱上拼搏"等，既给学</tspan><tspan x="1812.5" dy="13.9">生吐露心声的机会，又在班级形成一个良好的</tspan><tspan x="1812.5" dy="13.9">备考舆论氛围，起到了学生自我教育的作用。</tspan></text></g>
<g id="p5-m3"><rect class="lf" x="1807" y="3138" width="228" height="81.5" rx="5"/><text class="t" x="1812.5" y="3155"><tspan x="1812.5">3、班级不同阶段张贴不同的标语口号，尤其</tspan><tspan x="1812.5" dy="13.9">每个月都设有"温馨提示"，明确当月的奋斗目</tspan><tspan x="1812.5" dy="13.9">标、奋斗口号、具体的备考内容和方向，对学</tspan><tspan x="1812.5" dy="13.9">生起到了引领指导作用。从实施情况看，认真</tspan><tspan x="1812.5" dy="13.9">跟着老师走的学生都有了不同程度的进步。</tspan></text></g>
<g id="p5-k2"><rect class="lf" x="1557" y="3594" width="230" height="39.8" rx="5"/><text class="t" x="1562.5" y="3611"><tspan x="1562.5">二、建设良好的班风和学风，帮助学生形成高</tspan><tspan x="1562.5" dy="13.9">质高效的学习习惯。</tspan></text></g>
<g id="p5-n1"><rect class="lf" x="1807" y="3242" width="229" height="95.4" rx="5"/><text class="t" x="1812.5" y="3259"><tspan x="1812.5">1、重申校纪和班规，强化学生的守时、守纪</tspan><tspan x="1812.5" dy="13.9">和责任意识，重点在无声走廊和肃静教室方面</tspan><tspan x="1812.5" dy="13.9">严抓严管，指导学生合理安排好课件零散时间</tspan><tspan x="1812.5" dy="13.9">的利用，到目前，已基本上做到了课间教室内</tspan><tspan x="1812.5" dy="13.9">肃静，每名学生都有事做，为创建一个良好的</tspan><tspan x="1812.5" dy="13.9">备考环境打下基础。</tspan></text></g>
<g id="p5-n2"><rect class="lf" x="1807" y="3472" width="229" height="67.6" rx="5"/><text class="t" x="1812.5" y="3489"><tspan x="1812.5">2、加强学法指导。根据"新教材、新课标、</tspan><tspan x="1812.5" dy="13.9">新教法"的特点，依据高考形势的变化，结合</tspan><tspan x="1812.5" dy="13.9">高考最新形式，认真研究教学管理的新对策，</tspan><tspan x="1812.5" dy="13.9">着重抓好以下几个方面的工作</tspan></text></g>
<g id="p5-n2a"><rect class="lf" x="2056" y="3360" width="229" height="67.6" rx="5"/><text class="t" x="2061.5" y="3377"><tspan x="2061.5">(1)教育学生在突出语数外的同时，综合科目</tspan><tspan x="2061.5" dy="13.9">在应用和学科渗透上下功夫，特长科顺其自然</tspan><tspan x="2061.5" dy="13.9">。以各月的月考为契机，针对不同阶段的复习</tspan><tspan x="2061.5" dy="13.9">内容和各科特点细化复习计划。</tspan></text></g>
<g id="p5-n2b"><rect class="lf" x="2056" y="3451" width="229" height="39.8" rx="5"/><text class="t" x="2061.5" y="3468"><tspan x="2061.5">(2)加强学法指导并对学生进行分类，实行分</tspan><tspan x="2061.5" dy="13.9">层推进。</tspan></text></g>
<g id="p5-n2c"><rect class="lf" x="2056" y="3514" width="229" height="53.7" rx="5"/><text class="t" x="2061.5" y="3531"><tspan x="2061.5">(3)加强对学生的行为、学法习惯的养成教育</tspan><tspan x="2061.5" dy="13.9">，增强学生的规范意识，努力提高学习的主动</tspan><tspan x="2061.5" dy="13.9">性、自觉性，提高主动认知的能力。</tspan></text></g>
<g id="p5-n2d"><rect class="lf" x="2056" y="3590" width="229" height="53.7" rx="5"/><text class="t" x="2061.5" y="3607"><tspan x="2061.5">(4)发挥优秀学生的模范带头作用，提高学生</tspan><tspan x="2061.5" dy="13.9">学习的积极性，努力养成一种互帮互学、团结</tspan><tspan x="2061.5" dy="13.9">向上的良好班风。</tspan></text></g>
<g id="p5-n3"><rect class="lf" x="1807" y="3747" width="229" height="39.8" rx="5"/><text class="t" x="1812.5" y="3764"><tspan x="1812.5">3、培养良好的学习习惯，做好20_年下半年</tspan><tspan x="1812.5" dy="13.9">工作计划。</tspan></text></g>
<g id="p5-n3a"><rect class="lf" x="2056" y="3666" width="229" height="39.8" rx="5"/><text class="t" x="2061.5" y="3683"><tspan x="2061.5">(1)结合月考，指导每位学生确立月奋斗目标</tspan><tspan x="2061.5" dy="13.9">，并制定学习计划。</tspan></text></g>
<g id="p5-n3b"><rect class="lf" x="2056" y="3729" width="229" height="53.7" rx="5"/><text class="t" x="2061.5" y="3746"><tspan x="2061.5">(2)指导学生利用好学情档案及时进行总结反</tspan><tspan x="2061.5" dy="13.9">思，班主任每月都要结合学生的反思，有针对</tspan><tspan x="2061.5" dy="13.9">性的与每名学生进行一次笔谈。</tspan></text></g>
<g id="p5-n3c"><rect class="lf" x="2056" y="3805" width="229" height="81.5" rx="5"/><text class="t" x="2061.5" y="3822"><tspan x="2061.5">(3)通过经常检查学生的作业、笔记、课堂纪</tspan><tspan x="2061.5" dy="13.9">律和考试情况，及时了解学生的学习情况;通</tspan><tspan x="2061.5" dy="13.9">过每天的语文、外语基础测试，强化学生对基</tspan><tspan x="2061.5" dy="13.9">础知识的重视与掌握;通过个别教育和榜样引</tspan><tspan x="2061.5" dy="13.9">导相结合的方法，培养学生良好学习习惯。</tspan></text></g>
<g id="p5-n4"><rect class="lf" x="1807" y="3910" width="229" height="53.7" rx="5"/><text class="t" x="1812.5" y="3927"><tspan x="1812.5">4、当好任课教师和学生的桥梁，搞好师生配</tspan><tspan x="1812.5" dy="13.9">合，建设一个师生和谐的班集体，为教学、为</tspan><tspan x="1812.5" dy="13.9">学习创造一个良好的环境。</tspan></text></g>
<g id="p5-k3"><rect class="lf" x="1557" y="4126" width="219" height="25.9" rx="5"/><text class="t" x="1562.5" y="4143"><tspan x="1562.5">三、利用有限的活动时间，丰富学生生活。</tspan></text></g>
<g id="p5-k3a"><rect class="lf" x="1796" y="3986" width="229" height="81.5" rx="5"/><text class="t" x="1801.5" y="4003"><tspan x="1801.5">高三的学习是紧张忙碌的，为使学生乐学爱学</tspan><tspan x="1801.5" dy="13.9">，积极参加学校组织的各种活动，并通过活动</tspan><tspan x="1801.5" dy="13.9">进一步增强集体荣誉感及加强顽强拼搏的意志</tspan><tspan x="1801.5" dy="13.9">品质培养。号召学生利用晚课间时间加强身体</tspan><tspan x="1801.5" dy="13.9">锻炼，为高三紧张的学习做好身体上的准备。</tspan></text></g>
<g id="p5-k3b"><rect class="lf" x="1796" y="4090" width="229" height="53.7" rx="5"/><text class="t" x="1801.5" y="4107"><tspan x="1801.5">开展心理健康教育，做好不同阶段学生心理疏</tspan><tspan x="1801.5" dy="13.9">导及心态调整工作，本学期已对出现心理问题</tspan><tspan x="1801.5" dy="13.9">的几名学生做了成功的心理辅导。</tspan></text></g>
<g id="p5-k3c"><rect class="lf" x="1796" y="4167" width="229" height="39.8" rx="5"/><text class="t" x="1801.5" y="4184"><tspan x="1801.5">经常与家长沟通。尤其是严格的请假制度，树</tspan><tspan x="1801.5" dy="13.9">立安全意识，遇到特殊情况及时与家长联系。</tspan></text></g>
<g id="p5-k3d"><rect class="lf" x="1796" y="4229" width="229" height="39.8" rx="5"/><text class="t" x="1801.5" y="4246"><tspan x="1801.5">在新一年的工作中，我将做好班主任工作计划</tspan><tspan x="1801.5" dy="13.9">，争取将工作做到更好。</tspan></text></g>
</g>
</svg>
